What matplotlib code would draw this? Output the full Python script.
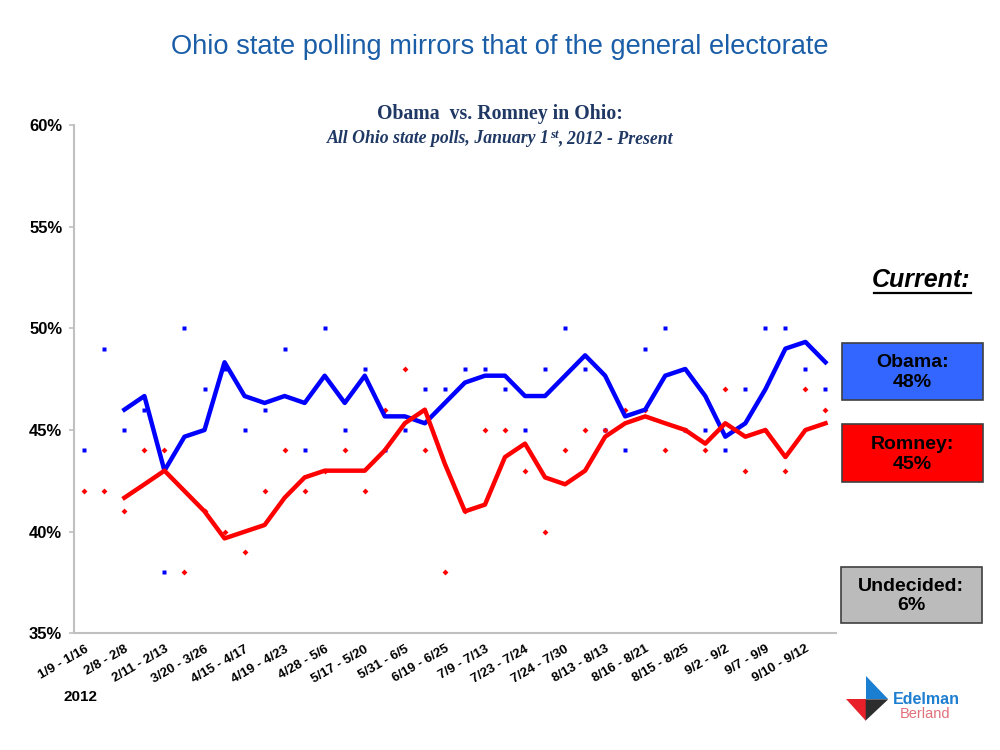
import matplotlib
matplotlib.use("Agg")
import matplotlib.pyplot as plt
from matplotlib.patches import Rectangle, Polygon
from matplotlib.lines import Line2D
from matplotlib import font_manager
import numpy as np

# ---------------- data ----------------
poll_labels = ["1/9 - 1/16", "2/8 - 2/8", "2/11 - 2/13", "3/20 - 3/26", "4/15 - 4/17",
               "4/19 - 4/23", "4/28 - 5/6", "5/17 - 5/20", "5/31 - 6/5", "6/19 - 6/25",
               "7/9 - 7/13", "7/23 - 7/24", "7/24 - 7/30", "8/13 - 8/13", "8/16 - 8/21",
               "8/15 - 8/25", "9/2 - 9/2", "9/7 - 9/9", "9/10 - 9/12"]

obama_polls = [44, 49, 45, 46, 38, 50, 47, 48, 45, 46, 49, 44, 50, 45, 48, 44, 45, 47, 47,
               48, 48, 47, 45, 48, 50, 48, 45, 44, 49, 50, 45, 45, 44, 47, 50, 50, 48, 47]
romney_polls = [42, 42, 41, 44, 44, 38, 41, 40, 39, 42, 44, 42, 43, 44, 42, 46, 48, 44, 38,
                41, 45, 45, 43, 40, 44, 45, 45, 46, 46, 44, 45, 44, 47, 43, 45, 43, 47, 46]

# trend lines (3-poll moving average), starting at the 3rd poll
obama_trend = [46.00, 46.67, 43.00, 44.67, 45.00, 48.33, 46.67, 46.33, 46.67, 46.33,
               47.67, 46.33, 47.67, 45.67, 45.67, 45.33, 46.33, 47.33, 47.67, 47.67,
               46.67, 46.67, 47.67, 48.67, 47.67, 45.67, 46.00, 47.67, 48.00, 46.67,
               44.67, 45.33, 47.00, 49.00, 49.33, 48.33]
romney_trend = [41.67, 42.33, 43.00, 42.00, 41.00, 39.67, 40.00, 40.33, 41.67, 42.67,
                43.00, 43.00, 43.00, 44.00, 45.33, 46.00, 43.33, 41.00, 41.33, 43.67,
                44.33, 42.67, 42.33, 43.00, 44.67, 45.33, 45.67, 45.33, 45.00, 44.33,
                45.33, 44.67, 45.00, 43.67, 45.00, 45.33]

y_ticks = [35, 40, 45, 50, 55, 60]

obama_current = 48
romney_current = 45
undecided_current = 6

# ---------------- style ----------------
plt.rcParams["font.family"] = ["Liberation Sans", "DejaVu Sans"]
W, H = 1000, 750


def fx(x):
    return x / W


def fy(y):
    return 1 - y / H


fig = plt.figure(figsize=(10, 7.5), dpi=100)
fig.patch.set_facecolor("white")
ax = fig.add_axes([fx(74.3), fy(633.4), (835.5 - 74.3) / W, (633.4 - 124.9) / H])

x = np.arange(len(obama_polls))
xt = x[2:]
ax.plot(x, obama_polls, linestyle="none", marker="s", ms=2.5, color="#0000ff", mec="none", zorder=2)
ax.plot(x, romney_polls, linestyle="none", marker="D", ms=3.0, color="#ff0000", mec="none", zorder=3)
ax.plot(xt, obama_trend, color="#0000ff", lw=3.2, solid_joinstyle="round", zorder=4)
ax.plot(xt, romney_trend, color="#ff0000", lw=3.2, solid_joinstyle="round", zorder=5)

ax.set_xlim(-0.5, len(obama_polls) - 0.5)
ax.set_ylim(35, 60)
ax.set_yticks(y_ticks)
ax.set_yticklabels([f"{v}%" for v in y_ticks], fontsize=12, fontweight="bold")
ax.set_xticks(x[::2])
ax.set_xticklabels(poll_labels, rotation=30, ha="right", va="top", rotation_mode="anchor",
                   fontsize=9.5, fontweight="bold")
ax.tick_params(axis="x", length=0, pad=7)
ax.tick_params(axis="y", length=3.6, width=1.2, color="#c0c0c0", pad=5)
for s in ("top", "right"):
    ax.spines[s].set_visible(False)
for s in ("left", "bottom"):
    ax.spines[s].set_color("#c0c0c0")
    ax.spines[s].set_linewidth(1.5)

# ---------------- texts ----------------
renderer = fig.canvas.get_renderer()
names = {f.name for f in font_manager.fontManager.ttflist}
title_family = "Liberation Sans Narrow" if "Liberation Sans Narrow" in names else "Liberation Sans"
title = fig.text(0.5, fy(47), "Ohio state polling mirrors that of the general electorate",
                 ha="center", va="center", color="#1b5ea8", fontsize=25, family=[title_family, "DejaVu Sans"])
tw = title.get_window_extent(renderer).width
title.set_fontsize(25 * 658 / tw)

navy = "#1f3864"
serif = ["Liberation Serif", "DejaVu Serif"]
sub1 = fig.text(0.5, fy(114), "Obama  vs. Romney in Ohio:", ha="center", va="center",
                family=serif, fontweight="bold", fontsize=14, color=navy)
w1 = sub1.get_window_extent(renderer).width
sub1.set_fontsize(14 * 246 / w1)

parts = [("All Ohio state polls, January 1", 1.0, 0), ("st", 0.72, 5.5), (", 2012 - Present", 1.0, 0)]
base_fs = 13
texts = []
for s, scale, rise in parts:
    t = fig.text(0, 0, s, fontsize=base_fs * scale, family=serif, fontweight="bold", style="italic",
                 color=navy, va="baseline", ha="left")
    texts.append((t, scale, rise))
widths = [t.get_window_extent(renderer).width for t, _, _ in texts]
k = 344 / sum(widths)
for t, scale, _ in texts:
    t.set_fontsize(base_fs * scale * k)
widths = [t.get_window_extent(renderer).width for t, _, _ in texts]
x0 = 500 - sum(widths) / 2
base_y = 143
for (t, scale, rise), w in zip(texts, widths):
    t.set_position((fx(x0), fy(base_y - rise)))
    x0 += w

fig.text(fx(63), fy(697), "2012", fontsize=11, fontweight="bold", ha="left", va="center")

# Current panel
cur = fig.text(fx(921.5), fy(280), "Current:", fontsize=18, fontweight="bold", style="italic",
               ha="center", va="center")
bb = cur.get_window_extent(renderer)
fig.add_artist(Line2D([bb.x0 / W + 0.002, bb.x1 / W], [fy(292.5), fy(292.5)],
                      transform=fig.transFigure, color="black", lw=1.6))

boxes = [
    (841.7, 342.7, 983.3, 400.0, "#3366ff", f"Obama:\n{obama_current}%"),
    (841.7, 424.3, 983.3, 482.3, "#ff0000", f"Romney:\n{romney_current}%"),
    (840.7, 566.7, 981.7, 623.3, "#bbbbbb", f"Undecided:\n{undecided_current}%"),
]
for x1, y1, x2, y2, col, label in boxes:
    fig.add_artist(Rectangle((fx(x1), fy(y2)), (x2 - x1) / W, (y2 - y1) / H,
                             transform=fig.transFigure, facecolor=col, edgecolor="#404040", lw=1.2))
    fig.text(fx((x1 + x2) / 2), fy((y1 + y2) / 2 + 1), label, ha="center", va="center",
             fontsize=14, fontweight="bold", linespacing=1.2, color="black")

# logo
def tri(pts, col):
    fig.add_artist(Polygon([(fx(a), fy(b)) for a, b in pts], closed=True,
                           transform=fig.transFigure, facecolor=col, edgecolor="none"))

tri([(865.7, 675.7), (865.7, 699.3), (888.3, 699.3)], "#1a7fd0")
tri([(846.0, 699.3), (865.7, 699.3), (865.7, 720.5)], "#e8202a")
tri([(865.7, 699.3), (888.3, 699.3), (865.7, 720.5)], "#2d2d2d")
fig.text(fx(893), fy(700), "Edelman", fontsize=11.5, fontweight="bold", color="#1e7fd0",
         ha="left", va="center")
fig.text(fx(900), fy(713.5), "Berland", fontsize=10.5, color="#e0707a", ha="left", va="center")

fig.savefig("out.png", dpi=100, facecolor="white")
